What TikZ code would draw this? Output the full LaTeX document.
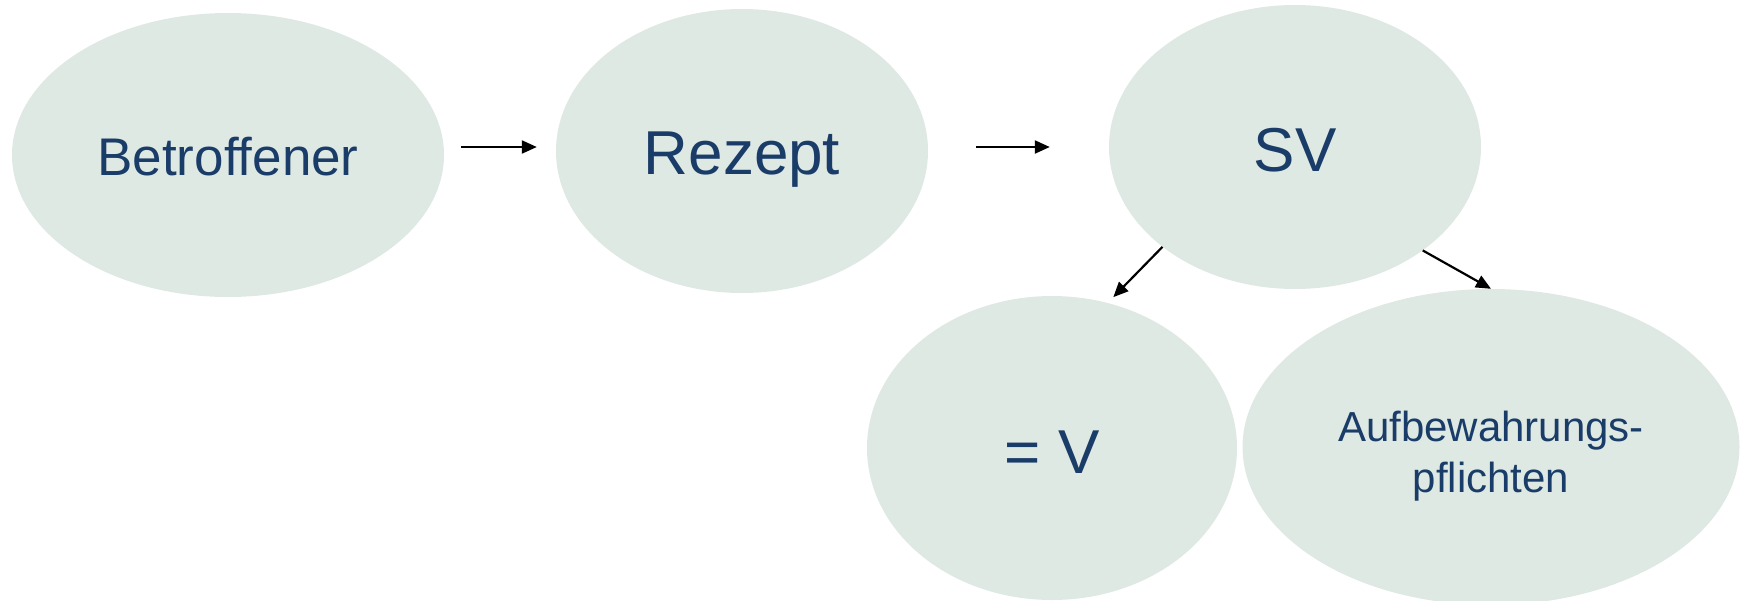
\documentclass[tikz,border=0pt]{standalone}
\usepackage{fontspec}
\setmainfont{Liberation Sans}[Ligatures=NoCommon]
\usetikzlibrary{arrows.meta,shapes.geometric}
\definecolor{bubble}{RGB}{223,233,227}
\definecolor{ink}{RGB}{26,60,104}
\tikzset{
  bubble/.style={ellipse, fill=bubble, draw=none, inner sep=0pt},
  lbl/.style={text=ink, inner sep=0pt, anchor=base},
  big/.style={font=\fontsize{62}{70}\selectfont},
  arr/.style={-{Triangle[length=15pt,width=13pt]}, line width=2.2pt, black}
}
\begin{document}
\begin{tikzpicture}[x=1pt,y=-1pt]
\useasboundingbox (0,0) rectangle (1743,600);
\node[bubble, minimum width=432pt, minimum height=284pt] (bet) at (228,155) {};
\node[bubble, minimum width=372pt, minimum height=284pt] (rez) at (742,151) {};
\node[bubble, minimum width=372pt, minimum height=284pt] (sv) at (1295,147) {};
\node[bubble, minimum width=370pt, minimum height=304pt] (ev) at (1052,448) {};
\node[bubble, minimum width=497pt, minimum height=316pt] (aufb) at (1491,447) {};
\node[lbl, font=\fontsize{53}{60}\selectfont] (bettxt) at (228,175) {Betroffener};
\node[lbl, big] (reztxt) at (742,174) {Rezept};
\node[lbl, big] (svtxt) at (1295,171) {SV};
\node[lbl, big] (evtxt) at (1052,473) {= V};
\node[lbl, font=\fontsize{42}{50}\selectfont] (auf1) at (1491,441) {Aufbewahrungs-};
\node[lbl, font=\fontsize{42}{50}\selectfont] (auf2) at (1491,492) {pflichten};
\draw[arr, shorten <=17pt, shorten >=19pt] (bet.east |- sv.center) -- (rez.west |- sv.center);
\draw[arr, shorten <=48pt, shorten >=59pt] (rez.east |- sv.center) -- (sv.west);
\draw[arr, shorten >=8pt] (sv.217) -- (ev.69);
\draw[arr] (sv.321) -- (aufb.north);
\end{tikzpicture}
\end{document}
